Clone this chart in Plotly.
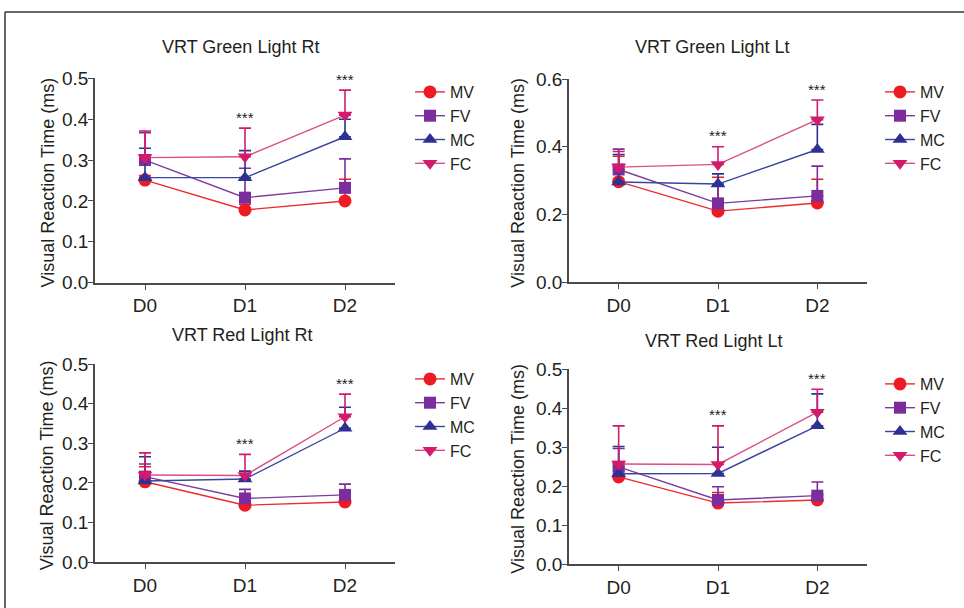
import plotly.graph_objects as go

days = ["D0", "D1", "D2"]
groups = ["MV", "FV", "MC", "FC"]
panel_titles = ["VRT Green Light Rt", "VRT Green Light Lt", "VRT Red Light Rt", "VRT Red Light Lt"]
y_title = "Visual Reaction Time (ms)"
star_text = "***"

# ---- Green Light Rt : means and upper error limits (mean + SD)
gr_mean_MV = [0.251, 0.178, 0.200]
gr_mean_FV = [0.300, 0.208, 0.232]
gr_mean_MC = [0.257, 0.257, 0.357]
gr_mean_FC = [0.306, 0.308, 0.410]
gr_up_MV = [0.262, 0.192, 0.253]
gr_up_FV = [0.367, 0.280, 0.303]
gr_up_MC = [0.329, 0.323, 0.400]
gr_up_FC = [0.371, 0.378, 0.471]

# ---- Green Light Lt
gl_mean_MV = [0.297, 0.210, 0.234]
gl_mean_FV = [0.333, 0.233, 0.255]
gl_mean_MC = [0.296, 0.290, 0.392]
gl_mean_FC = [0.340, 0.348, 0.480]
gl_up_MV = [0.372, 0.310, 0.304]
gl_up_FV = [0.393, 0.285, 0.343]
gl_up_MC = [0.377, 0.320, 0.466]
gl_up_FC = [0.386, 0.400, 0.538]

# ---- Red Light Rt
rr_mean_MV = [0.203, 0.144, 0.152]
rr_mean_FV = [0.216, 0.161, 0.170]
rr_mean_MC = [0.205, 0.210, 0.338]
rr_mean_FC = [0.220, 0.219, 0.367]
rr_up_MV = [0.241, 0.170, 0.175]
rr_up_FV = [0.248, 0.184, 0.197]
rr_up_MC = [0.266, 0.230, 0.391]
rr_up_FC = [0.276, 0.272, 0.424]

# ---- Red Light Lt
rl_mean_MV = [0.224, 0.157, 0.165]
rl_mean_FV = [0.250, 0.165, 0.176]
rl_mean_MC = [0.232, 0.233, 0.355]
rl_mean_FC = [0.257, 0.256, 0.390]
rl_up_MV = [0.240, 0.184, 0.180]
rl_up_FV = [0.297, 0.199, 0.211]
rl_up_MC = [0.302, 0.300, 0.437]
rl_up_FC = [0.355, 0.355, 0.449]

y_max = [0.5, 0.6, 0.5, 0.5]
y_dtick = [0.1, 0.2, 0.1, 0.1]
star_days = ["D1", "D2"]

panels = [
    ([gr_mean_MV, gr_mean_FV, gr_mean_MC, gr_mean_FC], [gr_up_MV, gr_up_FV, gr_up_MC, gr_up_FC]),
    ([gl_mean_MV, gl_mean_FV, gl_mean_MC, gl_mean_FC], [gl_up_MV, gl_up_FV, gl_up_MC, gl_up_FC]),
    ([rr_mean_MV, rr_mean_FV, rr_mean_MC, rr_mean_FC], [rr_up_MV, rr_up_FV, rr_up_MC, rr_up_FC]),
    ([rl_mean_MV, rl_mean_FV, rl_mean_MC, rl_mean_FC], [rl_up_MV, rl_up_FV, rl_up_MC, rl_up_FC]),
]

# ---- styling
W, H = 964, 608
FONT = "Liberation Sans, Arial, Helvetica, sans-serif"
TXT = "#231F20"
AX = "#4a4a4a"
marker_col = ["#ED1C24", "#7B2D9B", "#2E3192", "#D41A6A"]
line_col = ["#EE2A2F", "#7D3C9E", "#3A45A0", "#DC4C86"]
symbols = ["circle", "square", "triangle-up", "triangle-down"]
msizes = [13, 12, 13, 13]

# pixel geometry of each plot area: (x0, x1, ytop, ybottom)
geom = [(95, 395, 78.3, 282.7), (569, 867, 79.0, 282.3),
        (95, 395, 364.0, 562.3), (569, 867, 369.3, 564.3)]
title_pos = [(240, 47), (712, 47), (242, 335), (713, 341)]
ytitle_x = [47, 518, 47, 518]
legend_pos = [(410, 75), (880, 75), (410, 362), (880, 367)]

def px(x):
    return x / W

def py(y):
    return 1 - y / H

fig = go.Figure()
annotations = []
for p, (means, ups) in enumerate(panels):
    xa = "x" if p == 0 else f"x{p+1}"
    ya = "y" if p == 0 else f"y{p+1}"
    lg = "legend" if p == 0 else f"legend{p+1}"
    for g in range(4):
        m = means[g]
        u = ups[g]
        fig.add_trace(go.Scatter(
            x=days, y=m, xaxis=xa, yaxis=ya, name=groups[g], legend=lg,
            mode="lines+markers",
            line=dict(color=line_col[g], width=1.4),
            marker=dict(symbol=symbols[g], size=msizes[g], color=marker_col[g],
                        line=dict(width=0)),
            error_y=dict(type="data", symmetric=False,
                         array=[u[i] - m[i] for i in range(3)],
                         arrayminus=[0, 0, 0],
                         color=marker_col[g], thickness=1.6, width=6),
            cliponaxis=False,
        ))
    x0, x1, yt, yb = geom[p]
    axn = "" if p == 0 else str(p + 1)
    fig.layout["xaxis" + axn] = dict(
        domain=[px(x0), px(x1)], anchor=ya, range=[-0.5, 2.5],
        type="category", showline=True, linecolor=AX, linewidth=1.6,
        ticks="outside", ticklen=5, tickwidth=1.4, tickcolor=AX,
        showgrid=False, zeroline=False,
        tickfont=dict(family=FONT, size=19, color=TXT))
    fig.layout["yaxis" + axn] = dict(
        domain=[py(yb), py(yt)], anchor=xa, range=[0, y_max[p]],
        dtick=y_dtick[p], tick0=0, tickformat=".1f",
        showline=True, linecolor=AX, linewidth=1.6,
        ticks="outside", ticklen=5, tickwidth=1.4, tickcolor=AX,
        ticklabelstandoff=-4,
        showgrid=False, zeroline=False,
        tickfont=dict(family=FONT, size=19, color=TXT))
    # subplot title
    tx, ty = title_pos[p]
    annotations.append(dict(text=panel_titles[p], x=px(tx), y=py(ty), xref="paper", yref="paper",
                            showarrow=False, xanchor="center", yanchor="middle",
                            font=dict(family=FONT, size=18, color=TXT)))
    # y title
    annotations.append(dict(text=y_title, x=px(ytitle_x[p]), y=py((yt + yb) / 2 + 2),
                            xref="paper", yref="paper", textangle=-90,
                            showarrow=False, xanchor="center", yanchor="middle",
                            font=dict(family=FONT, size=18, color=TXT)))
    # significance stars above the highest error bar
    for d in star_days:
        i = days.index(d)
        top = max(ups[g][i] for g in range(4))
        annotations.append(dict(text=star_text, x=d, y=top, xref=xa, yref=ya,
                                showarrow=False, xanchor="center", yanchor="middle",
                                yshift=11, font=dict(family=FONT, size=15, color=TXT)))
    # legend
    lx, ly = legend_pos[p]
    fig.layout[lg] = dict(x=px(lx), y=py(ly), xanchor="left", yanchor="top",
                          bgcolor="rgba(0,0,0,0)", borderwidth=0, itemwidth=30,
                          tracegroupgap=0,
                          font=dict(family=FONT, size=16, color=TXT))

# frame lines (top and left)
shapes = [
    dict(type="line", xref="paper", yref="paper", x0=px(5), y0=py(12), x1=1, y1=py(12),
         line=dict(color="#333333", width=1.5)),
    dict(type="line", xref="paper", yref="paper", x0=px(5), y0=py(12), x1=px(5), y1=0,
         line=dict(color="#333333", width=1.5)),
]

fig.update_layout(
    width=W, height=H, margin=dict(l=0, r=0, t=0, b=0, autoexpand=False),
    paper_bgcolor="white", plot_bgcolor="white",
    annotations=annotations, shapes=shapes,
    font=dict(family=FONT, color=TXT),
)
post = ("document.documentElement.style.margin='0';"
        "document.body.style.margin='0';document.body.style.padding='0';"
        "document.body.style.overflow='hidden';")
fig.write_html("out.html", post_script=post, config={"displayModeBar": False})
